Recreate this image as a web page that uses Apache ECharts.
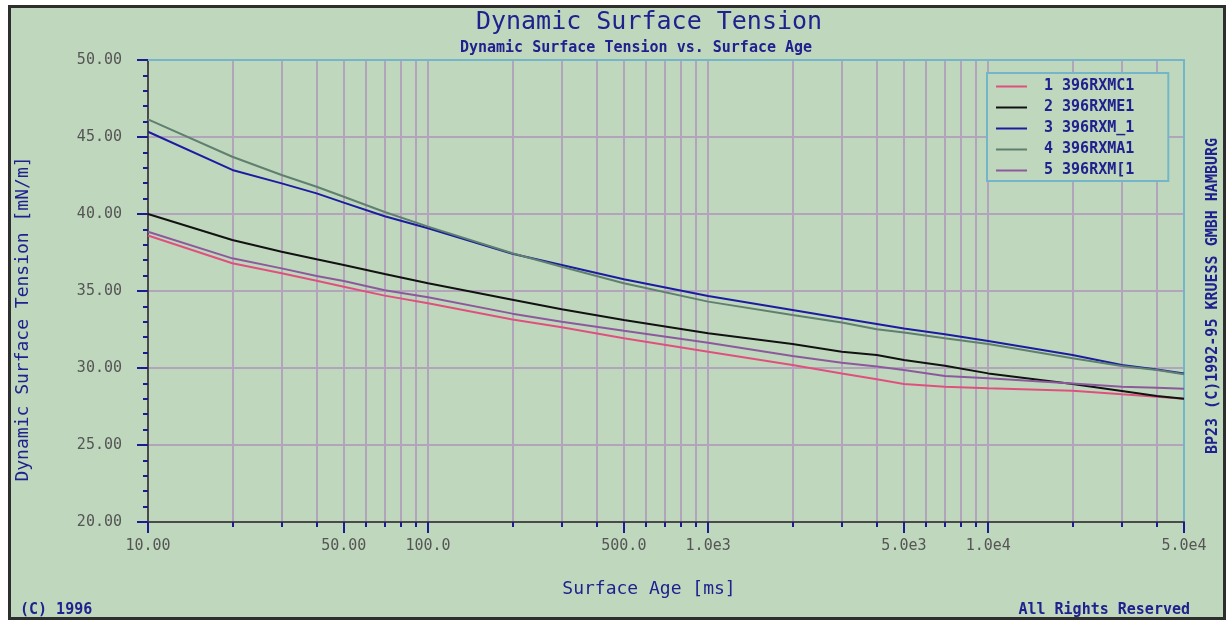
<!DOCTYPE html>
<html>
<head>
<meta charset="utf-8">
<script src="https://cdn.jsdelivr.net/npm/echarts@6/dist/echarts.min.js"></script>
<style>
  html, body { margin: 0; padding: 0; background: #ffffff; }
  #frame { position: absolute; left: 8px; top: 5px; width: 1218px; height: 615px; box-sizing: border-box;
           border: 3px solid #2e2e2e; background: #bfd8bd; }
  #chart { position: absolute; left: 0; top: 0; width: 1230px; height: 622px; }
</style>
</head>
<body>
<div id="frame"></div>
<div id="chart"></div>
<script>
// Surface age (ms)
const surfaceAge = [10, 20, 30, 40, 50, 70, 100, 200, 300, 500, 1000, 2000, 3000, 4000, 5000, 7000, 10000, 20000, 30000, 40000, 50000];
// Dynamic surface tension (mN/m)
const s1_396RXMC1 = [38.60, 36.80, 36.15, 35.67, 35.28, 34.70, 34.20, 33.15, 32.64, 31.93, 31.06, 30.19, 29.65, 29.27, 28.96, 28.79, 28.68, 28.53, 28.29, 28.14, 28.00];
const s2_396RXME1 = [40.00, 38.31, 37.55, 37.06, 36.69, 36.10, 35.50, 34.43, 33.81, 33.12, 32.25, 31.56, 31.06, 30.84, 30.52, 30.15, 29.65, 28.96, 28.51, 28.18, 28.00];
const s3_396RXM_1 = [45.34, 42.86, 41.99, 41.34, 40.74, 39.85, 39.07, 37.42, 36.69, 35.76, 34.68, 33.77, 33.23, 32.86, 32.57, 32.19, 31.75, 30.84, 30.19, 29.91, 29.65];
const s4_396RXMA1 = [46.15, 43.72, 42.53, 41.77, 41.12, 40.13, 39.18, 37.45, 36.58, 35.50, 34.31, 33.44, 32.95, 32.51, 32.30, 31.93, 31.56, 30.63, 30.13, 29.87, 29.60];
const s5_396RXMx1 = [38.85, 37.12, 36.47, 35.97, 35.65, 35.05, 34.59, 33.53, 33.01, 32.42, 31.64, 30.78, 30.34, 30.09, 29.87, 29.48, 29.33, 29.00, 28.79, 28.72, 28.66];

const seriesNames = ['1 396RXMC1', '2 396RXME1', '3 396RXM_1', '4 396RXMA1', '5 396RXM[1'];
const seriesColors = ['#e0507e', '#121212', '#1c1ca0', '#5f7f6f', '#8c5a9c'];

// x grid / tick positions and labels
const xGridValues = [10, 20, 30, 40, 50, 60, 70, 80, 90,
  100, 200, 300, 400, 500, 600, 700, 800, 900,
  1000, 2000, 3000, 4000, 5000, 6000, 7000, 8000, 9000,
  10000, 20000, 30000, 40000, 50000];
const xLabelValues = [10, 50, 100, 500, 1000, 5000, 10000, 50000];
const xLabelTexts = ['10.00', '50.00', '100.0', '500.0', '1.0e3', '5.0e3', '1.0e4', '5.0e4'];
const yMin = 20, yMax = 50, yStep = 5;

const FONT = 'DejaVu Sans Mono';
const BLUE_TEXT = '#20208e';
const GRID_COLOR = '#b1a4bb';
const BORDER_BLUE = '#74b6c9';

function xLabel(v) {
  for (let i = 0; i < xLabelValues.length; i++) {
    if (Math.abs(Math.log10(v) - Math.log10(xLabelValues[i])) < 1e-6) return xLabelTexts[i];
  }
  return '';
}

const allSeries = [s1_396RXMC1, s2_396RXME1, s3_396RXM_1, s4_396RXMA1, s5_396RXMx1];

const chart = echarts.init(document.getElementById('chart'), null, { renderer: 'canvas' });
chart.setOption({
  backgroundColor: 'transparent',
  animation: false,
  title: [
    { text: 'Dynamic Surface Tension', left: 649, top: 10, textAlign: 'center', padding: 0,
      textStyle: { fontFamily: FONT, fontSize: 25, fontWeight: 'normal', color: BLUE_TEXT } },
    { text: 'Dynamic Surface Tension vs. Surface Age', left: 636, top: 41, textAlign: 'center', padding: 0,
      textStyle: { fontFamily: FONT, fontSize: 15, fontWeight: 'bold', color: BLUE_TEXT } }
  ],
  legend: {
    orient: 'vertical', left: 987, top: 73,
    padding: [6, 34, 3, 9],
    itemGap: 6,
    itemWidth: 31, itemHeight: 2,
    icon: 'rect',
    borderColor: BORDER_BLUE, borderWidth: 2,
    backgroundColor: '#bfd8bd',
    textStyle: { fontFamily: FONT, fontSize: 15, fontWeight: 'bold', color: BLUE_TEXT, lineHeight: 15, padding: [0, 0, 0, 12] },
    data: seriesNames
  },
  grid: { left: 148, right: 46, top: 60, bottom: 100, containLabel: false },
  xAxis: [
    {
      type: 'log', logBase: 10, min: 10, max: 50000, position: 'bottom',
      name: 'Surface Age [ms]', nameLocation: 'middle', nameGap: 58,
      nameTextStyle: { fontFamily: FONT, fontSize: 18, color: BLUE_TEXT, padding: [0, 34, 0, 0] },
      axisLine: { show: true, onZero: false, lineStyle: { color: '#4a4a4a', width: 2 } },
      axisTick: { show: true, length: 5, customValues: xGridValues, lineStyle: { color: '#1c1c90', width: 2 } },
      axisLabel: { show: true, customValues: xLabelValues, margin: 17, formatter: xLabel,
        fontFamily: FONT, fontSize: 15, color: '#555555' },
      splitLine: { show: true, lineStyle: { color: GRID_COLOR, width: 2 } },
      minorTick: { show: false }
    },
    {
      type: 'log', logBase: 10, min: 10, max: 50000, position: 'bottom',
      axisLine: { show: false, onZero: false },
      axisTick: { show: true, length: 11, customValues: xLabelValues, lineStyle: { color: '#1c1c90', width: 2 } },
      axisLabel: { show: false },
      splitLine: { show: false }
    },
    {
      type: 'log', logBase: 10, min: 10, max: 50000, position: 'top',
      axisLine: { show: true, onZero: false, lineStyle: { color: BORDER_BLUE, width: 2 } },
      axisTick: { show: false }, axisLabel: { show: false }, splitLine: { show: false }
    }
  ],
  yAxis: [
    {
      type: 'value', min: yMin, max: yMax, interval: yStep, position: 'left',
      name: 'Dynamic Surface Tension [mN/m]', nameLocation: 'middle', nameGap: 116,
      nameTextStyle: { fontFamily: FONT, fontSize: 18, color: BLUE_TEXT, padding: [0, 56, 0, 0] },
      axisLine: { show: true, onZero: false, lineStyle: { color: '#4a4a4a', width: 2 } },
      axisTick: { show: true, length: 11, lineStyle: { color: '#1c1c90', width: 2 } },
      minorTick: { show: true, splitNumber: 5, length: 5, lineStyle: { color: '#1c1c90', width: 2 } },
      axisLabel: { margin: 26, formatter: v => v.toFixed(2), fontFamily: FONT, fontSize: 15, color: '#555555' },
      splitLine: { show: true, lineStyle: { color: GRID_COLOR, width: 2 } },
      minorSplitLine: { show: false }
    },
    {
      type: 'value', min: yMin, max: yMax, interval: yStep, position: 'right',
      axisLine: { show: true, onZero: false, lineStyle: { color: BORDER_BLUE, width: 2 } },
      axisTick: { show: false }, axisLabel: { show: false }, splitLine: { show: false }
    }
  ],
  graphic: [
    { type: 'text', left: 20, top: 603, style: { text: '(C) 1996', font: 'bold 15px "DejaVu Sans Mono"', fill: BLUE_TEXT } },
    { type: 'text', right: 40, top: 603, style: { text: 'All Rights Reserved', font: 'bold 15px "DejaVu Sans Mono"', fill: BLUE_TEXT } },
    { type: 'text', x: 1213, y: 296, rotation: Math.PI / 2,
      style: { text: 'BP23 (C)1992-95 KRUESS GMBH HAMBURG', font: 'bold 15px "DejaVu Sans Mono"', fill: BLUE_TEXT,
               align: 'center', verticalAlign: 'middle' } }
  ],
  series: allSeries.map((vals, k) => ({
    name: seriesNames[k],
    type: 'line',
    xAxisIndex: 0, yAxisIndex: 0,
    data: surfaceAge.map((x, i) => [x, vals[i]]),
    showSymbol: false,
    symbol: 'none',
    color: seriesColors[k],
    lineStyle: { color: seriesColors[k], width: 2 },
    z: 3 + k
  }))
});
</script>
</body>
</html>
